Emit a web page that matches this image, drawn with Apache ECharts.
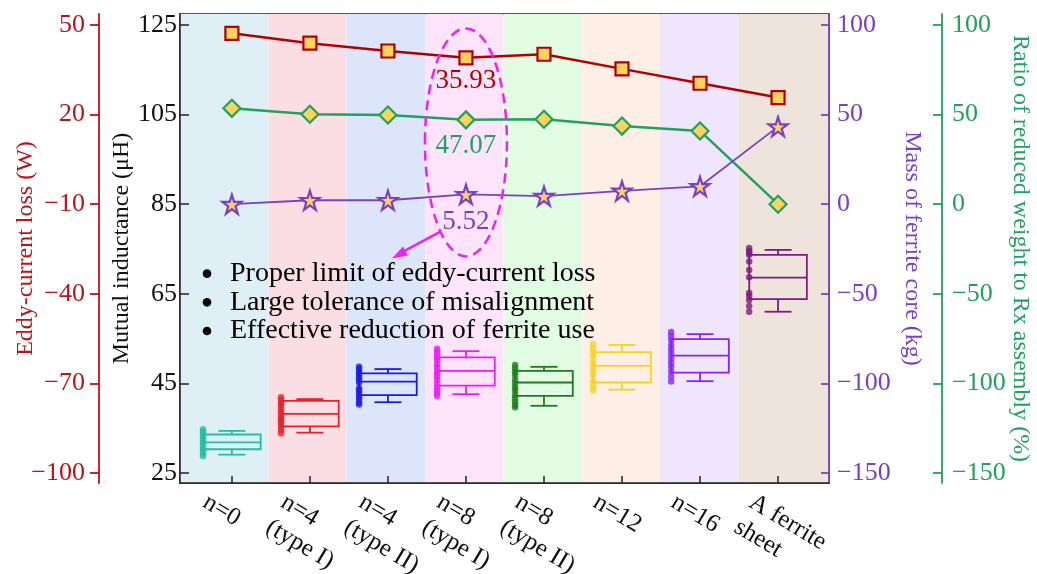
<!DOCTYPE html>
<html><head><meta charset="utf-8">
<script src="https://cdn.jsdelivr.net/npm/echarts@6/dist/echarts.min.js"></script>
<style>html,body{margin:0;padding:0;background:#fff}#c{width:1037px;height:574px}</style>
</head><body><div id="c"></div>
<script>
// ---------------- data ----------------
const categories = ['n=0', 'n=4\n(type I)', 'n=4\n(type II)', 'n=8\n(type I)', 'n=8\n(type II)', 'n=12', 'n=16', 'A ferrite\nsheet'];
const eddyLoss    = [47.2, 43.9, 41.3, 39.0, 40.2, 35.3, 30.5, 25.7];      // W
const weightRatio = [53.5, 50.2, 49.8, 47.07, 47.4, 43.6, 40.9, 0];       // %
const ferriteMass = [0, 2.2, 2.2, 5.52, 4.5, 7.4, 10.0, 43.3];            // kg
// mutual inductance box stats: [min, Q1, median, Q3, max] (uH)
const boxStats = [
  [29.1, 30.3, 31.85, 33.6, 34.4],
  [34.0, 35.4, 38.2, 41.1, 41.5],
  [40.8, 42.4, 45.4, 47.25, 48.2],
  [42.6, 44.5, 47.8, 50.8, 52.2],
  [40.0, 42.2, 45.2, 47.8, 48.7],
  [43.6, 45.2, 48.9, 52.0, 53.6],
  [45.5, 47.4, 51.2, 54.9, 56.0],
  [61.0, 63.8, 68.6, 73.7, 74.8]
];
const dotsN0   = [34.75, 34.2, 33.7, 33.1, 32.5, 31.8, 31.2, 30.5, 30.0, 29.4, 28.8];
const dotsN4a  = [41.9, 41.3, 40.6, 40.0, 39.2, 38.55, 37.9, 37.2, 36.7, 36.1, 35.3, 34.6, 33.9];
const dotsN4b  = [48.7, 48.2, 47.6, 47.1, 46.4, 45.8, 45.2, 43.9, 43.4, 42.8, 42.0, 41.5, 40.8, 40.3];
const dotsN8a  = [52.75, 52.1, 51.5, 50.8, 50.2, 49.3, 48.7, 47.8, 47.25, 46.5, 45.8, 45.0, 44.1, 43.5, 42.8, 42.2];
const dotsN8b  = [49.1, 48.4, 47.6, 46.9, 45.8, 45.0, 44.1, 43.4, 42.4, 41.7, 40.9, 40.2, 39.7];
const dotsN12  = [53.8, 52.8, 51.9, 51.0, 49.8, 48.9, 47.8, 46.9, 45.4, 44.4, 43.5];
const dotsN16  = [56.5, 55.6, 54.7, 53.6, 52.6, 51.6, 50.6, 49.6, 48.7, 47.6, 46.5, 45.4];
const dotsSheet = [75.2, 74.6, 74.2, 73.7, 72.2, 70.3, 68.7, 65.2, 64.5, 63.6, 62.3, 61.0];
const dotGroups = [dotsN0, dotsN4a, dotsN4b, dotsN8a, dotsN8b, dotsN12, dotsN16, dotsSheet];

const eddyTicks   = [-100, -70, -40, -10, 20, 50];
const inductTicks = [25, 45, 65, 85, 105, 125];
const massTicks   = [-150, -100, -50, 0, 50, 100];
const ratioTicks  = [-150, -100, -50, 0, 50, 100];

const noteIndex = 3;
const eddyNote = '35.93', ratioNote = '47.07', massNote = '5.52';
const bullets = ['Proper limit of eddy-current loss', 'Large tolerance of misalignment', 'Effective reduction of ferrite use'];

// ---------------- style ----------------
const FONT = '"Liberation Serif", "Times New Roman", serif';
const RED = '#b8141a', LINE_RED = '#b00000', GREEN = '#22a060', PURPLE = '#7b3fc4', MARK_FILL = '#fcd45c';
const bandColors = ['#def0f6', '#fbdde4', '#dce5f9', '#fde4fb', '#e2fbe3', '#fdeee6', '#efe6fd', '#efe4dc'];
const boxColors = ['#21bfa0', '#e8202a', '#1a1ae6', '#f01cf0', '#1f7a1f', '#f7d21e', '#8b22f5', '#801a80'];
const xMin = -0.665, xMax = 7.653;
const bandEdges = [xMin, 0.47, 1.47, 2.48, 3.48, 4.49, 5.49, 6.49, xMax];
const labelShift = -0.25, dotShift = -0.37;
const idx = categories.map((c, i) => i);
const STAR = 'path://M50,0 L61.2,34.5 L97.6,34.5 L68.2,55.9 L79.4,90.5 L50,69.1 L20.6,90.5 L31.8,55.9 L2.4,34.5 L38.8,34.5 Z';
const fmtNum = v => v < 0 ? '\u2212' + Math.abs(v) : String(v);
const TICK_FS = 26;

function yAx(o) {
  return Object.assign({
    type: 'value', splitLine: { show: false }, nameLocation: 'middle', nameMoveOverlap: false
  }, o);
}

const option = {
  animation: false,
  backgroundColor: '#fff',
  grid: { left: 180, right: 208, top: 14, bottom: 91, outerBoundsMode: 'none', containLabel: false, show: true, borderColor: '#222', borderWidth: 1.5, backgroundColor: 'transparent' },
  xAxis: {
    type: 'value', min: xMin, max: xMax, splitLine: { show: false },
    axisLine: { onZero: false, lineStyle: { color: '#222', width: 1.5 } },
    axisTick: { customValues: idx, inside: true, length: 7, lineStyle: { color: '#222', width: 1.5 } },
    axisLabel: {
      customValues: idx.map(i => i + labelShift),
      formatter: v => categories[Math.round(v - labelShift)],
      rotate: -31, align: 'left', verticalAlign: 'top', margin: 5,
      fontFamily: FONT, fontSize: 25, lineHeight: 29, color: '#111'
    }
  },
  yAxis: [
    yAx({ // eddy-current loss
      position: 'left', offset: 81, min: -103.35, max: 53.68,
      name: 'Eddy-current loss (W)', nameGap: 61, nameRotate: 90,
      nameTextStyle: { fontFamily: FONT, fontSize: 24, color: RED },
      axisLine: { show: true, onZero: false, lineStyle: { color: RED, width: 1.8 } },
      axisTick: { customValues: eddyTicks, inside: false, length: 9, lineStyle: { color: RED, width: 1.8 } },
      axisLabel: { customValues: eddyTicks, formatter: fmtNum, margin: 14, color: RED, fontFamily: FONT, fontSize: TICK_FS }
    }),
    yAx({ // mutual inductance
      position: 'left', offset: 0, min: 22.77, max: 127.46,
      name: 'Mutual inductance (\u03bcH)', nameGap: 46, nameRotate: 90,
      nameTextStyle: { fontFamily: FONT, fontSize: 24, color: '#111' },
      axisLine: { show: true, onZero: false, lineStyle: { color: '#222', width: 1.5 } },
      axisTick: { customValues: inductTicks, inside: true, length: 9, lineStyle: { color: '#222', width: 1.5 } },
      axisLabel: { customValues: inductTicks, formatter: fmtNum, margin: 3, color: '#111', fontFamily: FONT, fontSize: TICK_FS }
    }),
    yAx({ // ferrite mass
      position: 'right', offset: 0, min: -155.58, max: 106.14,
      name: 'Mass of ferrite core (kg)', nameGap: 71, nameRotate: -90,
      nameTextStyle: { fontFamily: FONT, fontSize: 24, color: PURPLE },
      axisLine: { show: true, onZero: false, lineStyle: { color: PURPLE, width: 1.8 } },
      axisTick: { customValues: massTicks, inside: true, length: 8, lineStyle: { color: PURPLE, width: 1.8 } },
      axisLabel: { customValues: massTicks, formatter: fmtNum, margin: 8, color: PURPLE, fontFamily: FONT, fontSize: TICK_FS }
    }),
    yAx({ // weight ratio
      position: 'right', offset: 113, min: -155.58, max: 106.14,
      name: 'Ratio of reduced weight to Rx assembly (%)', nameGap: 66, nameRotate: -90,
      nameTextStyle: { fontFamily: FONT, fontSize: 24, color: GREEN },
      axisLine: { show: true, onZero: false, lineStyle: { color: GREEN, width: 1.8 } },
      axisTick: { customValues: ratioTicks, inside: true, length: 9, lineStyle: { color: GREEN, width: 1.8 } },
      axisLabel: { customValues: ratioTicks, formatter: fmtNum, margin: 10, color: GREEN, fontFamily: FONT, fontSize: TICK_FS }
    })
  ],
  series: [
    { // background bands
      type: 'custom', yAxisIndex: 1, z: 0, silent: true,
      data: bandEdges.slice(0, -1).map((s, i) => [s, bandEdges[i + 1]]),
      encode: { x: [0, 1] },
      renderItem: (params, api) => {
        const a = api.coord([api.value(0), 50]), b = api.coord([api.value(1), 50]);
        const cs = params.coordSys;
        return { type: 'rect', shape: { x: a[0], y: cs.y, width: b[0] - a[0], height: cs.height }, style: { fill: bandColors[params.dataIndex] } };
      }
    },
    { // box plots
      type: 'custom', yAxisIndex: 1, z: 2, silent: true,
      data: boxStats.map((b, i) => [i].concat(b)),
      encode: { x: 0, y: [1, 2, 3, 4, 5] },
      renderItem: (params, api) => {
        const x = api.value(0);
        const lo = api.coord([x, api.value(1)]), q1 = api.coord([x, api.value(2)]), md = api.coord([x, api.value(3)]),
              q3 = api.coord([x, api.value(4)]), hi = api.coord([x, api.value(5)]);
        const cx = lo[0], hw = 28.8, cw = 13.5;
        const st = { stroke: boxColors[params.dataIndex], fill: null, lineWidth: 1.8 };
        return { type: 'group', children: [
          { type: 'rect', shape: { x: cx - hw, y: q3[1], width: 2 * hw, height: q1[1] - q3[1] }, style: st },
          { type: 'line', shape: { x1: cx - hw, y1: md[1], x2: cx + hw, y2: md[1] }, style: st },
          { type: 'line', shape: { x1: cx, y1: q3[1], x2: cx, y2: hi[1] }, style: st },
          { type: 'line', shape: { x1: cx, y1: q1[1], x2: cx, y2: lo[1] }, style: st },
          { type: 'line', shape: { x1: cx - cw, y1: hi[1], x2: cx + cw, y2: hi[1] }, style: st },
          { type: 'line', shape: { x1: cx - cw, y1: lo[1], x2: cx + cw, y2: lo[1] }, style: st }
        ] };
      }
    },
    { // raw data points
      type: 'scatter', yAxisIndex: 1, z: 3, symbol: 'circle', symbolSize: 6.5, silent: true,
      data: [].concat(...dotGroups.map((g, i) => g.map(v => ({ value: [i + dotShift, v], itemStyle: { color: boxColors[i] } }))))
    },
    { // eddy-current loss
      type: 'line', yAxisIndex: 0, z: 5, symbol: 'rect', symbolSize: 13,
      lineStyle: { color: LINE_RED, width: 2.5 },
      itemStyle: { color: MARK_FILL, borderColor: LINE_RED, borderWidth: 2.2 },
      data: eddyLoss.map((v, i) => i === noteIndex ? { value: [i, v], label: { show: true, position: 'bottom', distance: 2, formatter: eddyNote, color: LINE_RED, fontFamily: FONT, fontSize: 27 } } : [i, v])
    },
    { // weight ratio
      type: 'line', yAxisIndex: 3, z: 5, symbol: 'diamond', symbolSize: [17, 17],
      lineStyle: { color: GREEN, width: 2.5 },
      itemStyle: { color: MARK_FILL, borderColor: GREEN, borderWidth: 2.2 },
      data: weightRatio.map((v, i) => i === noteIndex ? { value: [i, v], label: { show: true, position: 'bottom', distance: 3, formatter: ratioNote, color: GREEN, fontFamily: FONT, fontSize: 27 } } : [i, v])
    },
    { // ferrite mass
      type: 'line', yAxisIndex: 2, z: 5, symbol: STAR, symbolSize: 19,
      lineStyle: { color: PURPLE, width: 1.8 },
      itemStyle: { color: MARK_FILL, borderColor: PURPLE, borderWidth: 2.2 },
      data: ferriteMass.map((v, i) => i === noteIndex ? { value: [i, v], label: { show: true, position: 'bottom', distance: 3, formatter: massNote, color: PURPLE, fontFamily: FONT, fontSize: 27 } } : [i, v])
    }
  ]
};

const chart = echarts.init(document.getElementById('c'), null, { renderer: 'canvas' });
chart.setOption(option);

// ---------------- annotations ----------------
const ex = chart.convertToPixel({ xAxisIndex: 0 }, noteIndex);
const ey = chart.convertToPixel({ yAxisIndex: 1 }, 98.8);
const MAG = '#ee22ee';
const g = [
  { type: 'ellipse', z: 10, silent: true, shape: { cx: ex, cy: ey, rx: 41, ry: 114 }, style: { fill: null, stroke: MAG, lineWidth: 2.5, lineDash: [10, 6] } },
  { type: 'line', z: 10, silent: true, shape: { x1: ex - 25, y1: ey + 89, x2: ex - 66, y2: ey + 111 }, style: { stroke: MAG, lineWidth: 2.5 } },
  { type: 'polygon', z: 10, silent: true, shape: { points: [[ex - 74, ey + 116], [ex - 63, ey + 104], [ex - 58, ey + 113]] }, style: { fill: MAG } }
];
const gx = chart.convertToPixel({ xAxisIndex: 0 }, xMin);
bullets.forEach((t, k) => {
  const y = chart.convertToPixel({ yAxisIndex: 1 }, 69.5 - k * 6.4);
  g.push({ type: 'circle', z: 10, silent: true, shape: { cx: gx + 27, cy: y, r: 4.3 }, style: { fill: '#000' } });
  g.push({ type: 'text', z: 10, silent: true, x: gx + 50, y: y, style: { text: t, fill: '#000', font: '28px ' + FONT, verticalAlign: 'middle', align: 'left' } });
});
chart.setOption({ graphic: g });
</script>
</body></html>
